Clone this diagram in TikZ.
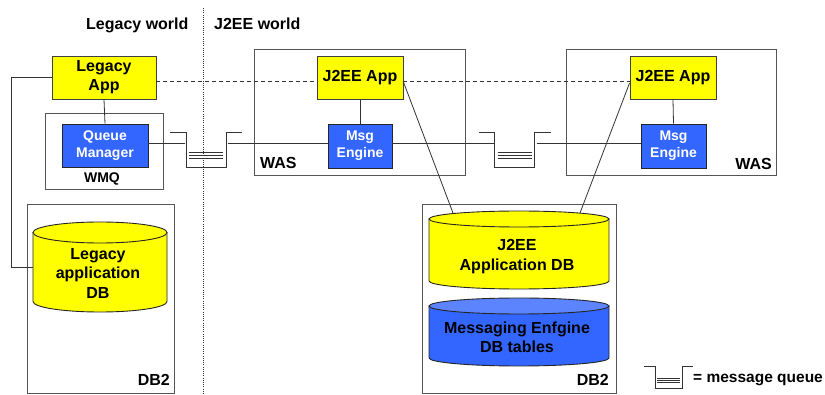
\documentclass[tikz,border=0pt]{standalone}
\usepackage{fontspec}
\setmainfont{Liberation Sans}
\usetikzlibrary{calc}
\definecolor{appyellow}{RGB}{255,255,0}
\definecolor{engblue}{RGB}{51,102,255}
\definecolor{engbluetop}{RGB}{92,132,255}
\definecolor{framegray}{RGB}{85,85,85}
\newcommand\drawcyl[7]{%
  \filldraw[fill=#6, draw=black!85, line width=0.9pt] ({#1-#2},#3) -- ({#1-#2},#4)
    arc[start angle=180, end angle=360, x radius=#2pt, y radius=#5pt] -- ({#1+#2},#3) -- cycle;
  \filldraw[fill=#7, draw=black!85, line width=0.9pt] (#1,#3) ellipse [x radius=#2pt, y radius=#5pt];
}
\begin{document}
\begin{tikzpicture}[x=1pt,y=-1pt,
  appbox/.style={draw=black!75, line width=0.9pt, fill=appyellow, inner sep=0pt, align=center, font=\fontsize{16}{19}\selectfont\bfseries},
  engbox/.style={draw=black!85, line width=0.9pt, fill=engblue, text=white, inner sep=0pt, align=center, font=\fontsize{14}{17}\selectfont\bfseries},
  frame/.style={draw=framegray, line width=0.9pt},
  lbl/.style={inner sep=0pt, font=\fontsize{16}{19}\selectfont\bfseries},
  smalllbl/.style={inner sep=0pt, font=\fontsize{14}{17}\selectfont\bfseries},
  conn/.style={draw=black!80, line width=0.8pt},
  mq/.pic={
    \draw[line width=0.8pt, black!80] (-36,0) -- (-20,0) -- (-20,35) -- (20,35) -- (20,0) -- (36,0);
    \draw[line width=0.6pt, black!80] (-17,20) -- (17,20) (-17,23) -- (17,23) (-17,26) -- (17,26);
    \coordinate (-in) at (-21,11);
    \coordinate (-out) at (22,11);
  }
]
\useasboundingbox (0,0) rectangle (825,395);

% section labels
\node[lbl, anchor=base west] (lw) at (86,30) {Legacy world};
\node[lbl, anchor=base west] (jw) at (214,30) {J2EE world};

% containers
\draw[frame] (45,113) rectangle (163,189);
\draw[frame] (254,49) rectangle (465,175);
\draw[frame] (566,49) rectangle (776,175);
\draw[frame] (27,204) rectangle (174,393);
\draw[frame] (422,204) rectangle (616,393);

\node[smalllbl, anchor=base] (wmq) at (102,183) {WMQ};
\node[lbl, anchor=base west] (was1) at (260,169) {WAS};
\node[lbl, anchor=base east] (was2) at (772,170) {WAS};
\node[lbl, anchor=base east] (db2l) at (170,385) {DB2};
\node[lbl, anchor=base east] (db2r) at (609,385) {DB2};

% databases
\drawcyl{100}{67}{232.5}{301.5}{10.5}{appyellow}{appyellow}
\drawcyl{519}{90}{219}{281}{8}{appyellow}{appyellow}
\drawcyl{519}{90}{306}{358}{8}{engblue}{engbluetop}
\node[lbl, align=center, font=\fontsize{16}{19.5}\selectfont\bfseries] (ldb) at (98,273) {Legacy\\application\\DB};
\node[lbl, align=center, font=\fontsize{16}{20}\selectfont\bfseries] (jdb) at (517,257) {J2EE\\Application DB};
\node[lbl, align=center, font=\fontsize{16}{19}\selectfont\bfseries] (mdb) at (517,337.5) {Messaging Enfgine\\DB tables};
\coordinate (ldb-left) at (33,267);
\coordinate (jdb-tl) at (453,213);
\coordinate (jdb-tr) at (580,213);

% application boxes and engines
\node[appbox, minimum width=104, minimum height=43] (la) at (104,77.5) {Legacy\\App};
\node[engbox, minimum width=86, minimum height=43] (qm) at (105,145.5) {Queue\\Manager};
\node[appbox, minimum width=86, minimum height=43] (j2ee1) at (360,77.5) {J2EE App};
\node[engbox, minimum width=64, minimum height=44] (me1) at (360,146) {Msg\\Engine};
\node[appbox, minimum width=86, minimum height=43] (j2ee2) at (673,77.5) {J2EE App};
\node[engbox, minimum width=65, minimum height=44] (me2) at (673.5,146) {Msg\\Engine};

% queues
\pic (q1) at (206,132) {mq};
\pic (q2) at (514.5,132) {mq};

% connectors
\draw[conn] (la.south) -- (qm.north);
\draw[conn] (j2ee1.south) -- (me1.north);
\draw[conn] (j2ee2.south) -- (me2.north);
\draw[conn] (q1-in) -- (q1-in -| qm.east);
\draw[conn] (q1-out) -- (q1-out -| me1.west);
\draw[conn] (q2-in) -- (q2-in -| me1.east);
\draw[conn] (q2-out) -- (q2-out -| me2.west);
\draw[conn] (la.west) -- ++(-40,0) |- (ldb-left);
\draw[conn] ($(j2ee1.east)+(0,4.5)$) -- (jdb-tl);
\draw[conn] ($(j2ee2.west)+(0,5.5)$) -- (jdb-tr);
\draw[conn, dash pattern=on 4pt off 3pt] ($(la.east)+(0,3.5)$) -- ($(j2ee1.west)+(0,3.5)$);
\draw[conn, dash pattern=on 4pt off 3pt] ($(j2ee1.east)+(0,3.5)$) -- ($(j2ee2.west)+(0,3.5)$);

% world divider
\draw[black!80, line width=0.9pt, dash pattern=on 1pt off 1.2pt] (203,8) -- (203,395);

% legend
\pic[xscale=0.68, yscale=0.63] (lq) at (668.5,366) {mq};
\node[lbl, anchor=base west, font=\fontsize{15.5}{18}\selectfont\bfseries] (legend) at (693,383) {= message queue};
\end{tikzpicture}
\end{document}
